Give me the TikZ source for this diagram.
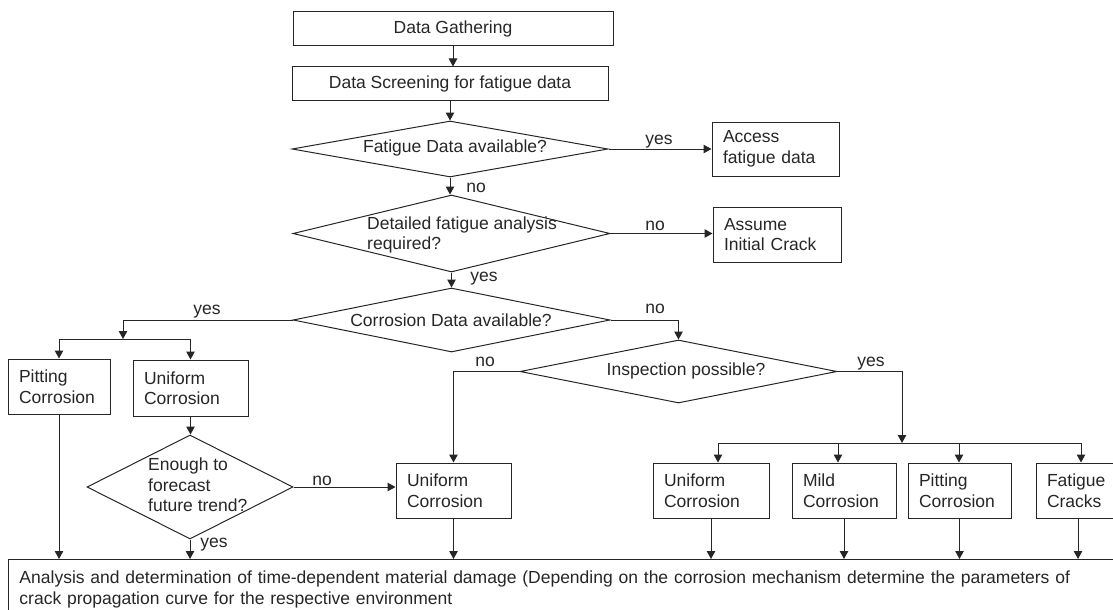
\documentclass[tikz,border=0pt]{standalone}
\usepackage{fontspec}
\setmainfont{Liberation Sans}
\usetikzlibrary{arrows.meta,shapes.geometric}
\definecolor{ink}{HTML}{262626}
\begin{document}
\begin{tikzpicture}[x=1pt,y=-1pt,
  every node/.style={text=ink, font=\fontsize{17.5}{20.5}\selectfont},
  plainbox/.style={draw=ink, line width=1pt, rectangle, inner sep=0pt, align=center},
  box/.style 2 args={draw=ink, line width=1pt, rectangle, inner xsep=11pt, inner ysep=0pt,
    align=left, minimum width=#1, text width=#2},
  dia/.style={draw=ink, line width=1pt, shape=diamond, inner sep=0pt},
  qtext/.style={inner sep=0pt},
  lbl/.style={inner sep=0pt, anchor=base},
  arr/.style={draw=ink, line width=1pt, -{Triangle[length=8pt,width=8.5pt]}},
  wire/.style={draw=ink, line width=1pt}]
\useasboundingbox (0,0) rectangle (1113,610);
\clip (0,0) rectangle (1113,610);

% main column
\node[plainbox, minimum width=320, minimum height=34] (gather) at (453,29) {Data Gathering};
\node[plainbox, minimum width=316, minimum height=33] (screen) at (450,83.5) {Data Screening for fatigue data};

\node[dia, minimum width=316, minimum height=56] (d1) at (450,149) {};
\node[qtext] (t1) at (455,148) {Fatigue Data available?};

\node[dia, minimum width=317, minimum height=77] (d2) at (451.5,233.5) {};
\node[qtext, anchor=west, align=left] (t2) at (367,235) {Detailed fatigue analysis\\ required?};

\node[dia, minimum width=317, minimum height=64] (d3) at (451.5,320) {};
\node[qtext] (t3) at (451,320) {Corrosion Data available?};

\node[dia, minimum width=317, minimum height=63] (d5) at (678.5,371.5) {};
\node[qtext] (t5) at (686,371) {Inspection possible?};

% side boxes
\node[box={127}{105}, minimum height=54] (access) at (775.5,149) {Access\\fatigue data};
\node[box={128}{106}, minimum height=55] (assume) at (777,234.5) {Assume\\Initial Crack};

% left branch
\node[box={102}{80}, minimum height=55] (pitL) at (59,386.5) {Pitting\\Corrosion};
\node[box={115}{93}, minimum height=56] (uniL) at (190.5,388) {Uniform\\Corrosion};
\node[dia, minimum width=206, minimum height=104] (d4) at (190,487) {};
\node[qtext, anchor=west, align=left] (t4) at (148,485) {Enough to\\forecast\\future trend?};
\node[box={115}{93}, minimum height=55] (uniM) at (453.5,490.5) {Uniform\\Corrosion};

% right branch
\node[box={116}{94}, minimum height=55] (uniR) at (711,490.5) {Uniform\\Corrosion};
\node[box={104}{82}, minimum height=55] (mild) at (844,490.5) {Mild\\Corrosion};
\node[box={103}{81}, minimum height=55] (pitR) at (959.5,490.5) {Pitting\\Corrosion};
\node[box={84}{62}, minimum height=55] (fat) at (1078,490.5) {Fatigue\\Cracks};

% final step
\node[box={1125}{1103}, minimum height=60, anchor=north west] (bottom) at (8,559)
  {Analysis and determination of time-dependent material damage (Depending on the corrosion mechanism determine the parameters of\\crack propagation curve for the respective environment};

% connectors of the main column
\draw[arr] (gather.south) -- (gather.south |- screen.north);
\draw[arr] (screen.south) -- (d1.north);
\draw[arr] (d1.east) -- (d1.east -| access.west);
\draw[arr] (d1.south) -- (d1.south |- d2.north);
\draw[arr] (d2.east) -- (d2.east -| assume.west);
\draw[arr] (d2.south) -- (d3.north);

% yes: corrosion data available
\coordinate (ys) at (123,339);
\draw[arr] (d3.west) -| (ys);
\draw[wire] (pitL.north |- ys) -- (uniL.north |- ys);
\draw[arr] (pitL.north |- ys) -- (pitL.north);
\draw[arr] (uniL.north |- ys) -- (uniL.north);
\draw[arr] (uniL.south) -- (uniL.south |- d4.north);
\draw[arr] (d4.east) -- (d4.east -| uniM.west);

% no: corrosion data not available
\draw[arr] (d3.east) -| (d5.north);
\draw[arr] (d5.west) -| (uniM.north);
\coordinate (rs) at (902,443);
\draw[arr] (d5.east) -| (rs);
\coordinate (b1) at (718,443);
\coordinate (b2) at (838,443);
\coordinate (b3) at (959,443);
\coordinate (b4) at (1081,443);
\draw[wire] (b1) -- (b4);
\draw[arr] (b1) -- (b1 |- uniR.north);
\draw[arr] (b2) -- (b2 |- mild.north);
\draw[arr] (b3) -- (b3 |- pitR.north);
\draw[arr] (b4) -- (b4 |- fat.north);

% into the final step
\draw[arr] (pitL.south) -- (pitL.south |- bottom.north);
\draw[arr] (d4.south) -- (d4.south |- bottom.north);
\draw[arr] (uniM.south) -- (uniM.south |- bottom.north);
\draw[arr] (uniR.south) -- (uniR.south |- bottom.north);
\draw[arr] (mild.south) -- (mild.south |- bottom.north);
\draw[arr] (pitR.south) -- (pitR.south |- bottom.north);
\draw[arr] (fat.south) -- (fat.south |- bottom.north);

% branch labels
\node[lbl] (ly1) at (659,144) {yes};
\node[lbl] (ln1) at (655,230) {no};
\node[lbl] (ln0) at (476,192) {no};
\node[lbl] (ly0) at (484,281) {yes};
\node[lbl] (ly2) at (207,314) {yes};
\node[lbl] (ln2) at (655,313) {no};
\node[lbl] (ln3) at (485,366) {no};
\node[lbl] (ly3) at (871,366) {yes};
\node[lbl] (ln4) at (322,485) {no};
\node[lbl] (ly4) at (214,547) {yes};
\end{tikzpicture}
\end{document}
